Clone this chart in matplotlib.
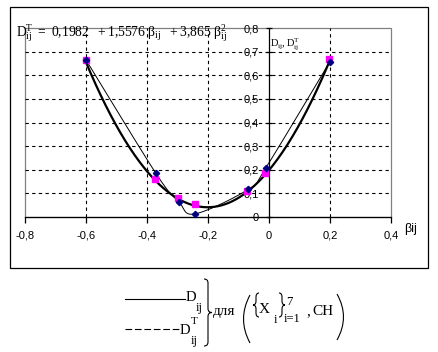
import numpy as np
import matplotlib
matplotlib.use("Agg")
import matplotlib.pyplot as plt
from matplotlib.patches import Rectangle, PathPatch
from matplotlib.path import Path

# ---- data ----
beta_T = [-0.6, -0.375, -0.297, -0.243, -0.073, -0.012, 0.197]
D_T = [0.665, 0.161, 0.082, 0.054, 0.111, 0.185, 0.668]
beta = [-0.6, -0.371, -0.296, -0.243, -0.068, -0.010, 0.200]
D = [0.665, 0.185, 0.065, 0.013, 0.117, 0.209, 0.658]
trend_coef = [0.1982, 1.5576, 3.865]   # D^T = c0 + c1*b + c2*b^2
x_ticks = [-0.8, -0.6, -0.4, -0.2, 0.0, 0.2, 0.4]
x_tick_labels = ["-0,8", "-0,6", "-0,4", "-0,2", "0", "0,2", "0,4"]
y_ticks = [0, 0.1, 0.2, 0.3, 0.4, 0.5, 0.6, 0.7, 0.8]
y_tick_labels = ["0", "0,1", "0,2", "0,3", "0,4", "0,5", "0,6", "0,7", "0,8"]

serif = 'Liberation Serif'
plt.rcParams['mathtext.fontset'] = 'custom'
plt.rcParams['mathtext.rm'] = serif
plt.rcParams['mathtext.it'] = serif
plt.rcParams['mathtext.bf'] = serif

W, H = 438, 352
fig = plt.figure(figsize=(W / 100, H / 100), dpi=100)


def smooth(xs, ys, n=40):
    P = np.column_stack([xs, ys])
    out = []
    for i in range(len(P) - 1):
        p0 = P[max(i - 1, 0)]
        p1 = P[i]
        p2 = P[i + 1]
        p3 = P[min(i + 2, len(P) - 1)]
        c1 = p1 + (p2 - p0) / 6.0
        c2 = p2 - (p3 - p1) / 6.0
        t = np.linspace(0, 1, n)[:, None]
        seg = ((1 - t) ** 3) * p1 + 3 * ((1 - t) ** 2) * t * c1 \
            + 3 * (1 - t) * t ** 2 * c2 + t ** 3 * p2
        out.append(seg if i == 0 else seg[1:])
    S = np.vstack(out)
    return S[:, 0], S[:, 1]


ax = fig.add_axes([25 / W, 1 - 217 / H, 366 / W, 189 / H])
ax.set_xlim(-0.8, 0.4)
ax.set_ylim(0, 0.8)

# grid
for gx in [-0.6, -0.4, -0.2, 0.2]:
    ax.axvline(gx, color='black', lw=0.8, ls=(0, (3, 3)), zorder=1)
for gy in [0.1, 0.2, 0.3, 0.4, 0.5, 0.6, 0.7]:
    ax.axhline(gy, color='black', lw=0.8, ls=(0, (3, 3)), zorder=1)

ax.add_patch(Rectangle((0, 0), 1, 1, transform=ax.transAxes, fill=False,
                       ec='#808080', lw=0.9, zorder=0.5, clip_on=False))

for s in ['top', 'right']:
    ax.spines[s].set_visible(False)
ax.spines['left'].set_position(('data', 0))
ax.spines['left'].set_color('black')
ax.spines['bottom'].set_color('black')
ax.spines['left'].set_linewidth(0.9)
ax.spines['bottom'].set_linewidth(0.9)

ax.set_xticks(x_ticks)
ax.set_xticklabels(x_tick_labels)
ax.set_yticks(y_ticks)
ax.set_yticklabels(y_tick_labels)
ax.tick_params(axis='x', direction='out', length=4, width=0.9, pad=6,
               labelsize=8, labelfontfamily='Liberation Sans')
ax.tick_params(axis='y', direction='inout', length=5, width=0.9, pad=5,
               labelsize=8, labelfontfamily='Liberation Sans')

# trendline (thick)
bx = np.linspace(beta_T[0], beta_T[-1], 200)
by = trend_coef[0] + trend_coef[1] * bx + trend_coef[2] * bx ** 2
ax.plot(bx, by, color='black', lw=1.6, zorder=3)

# smooth thin line through D
sx, sy = smooth(beta, D)
ax.plot(sx, sy, color='black', lw=0.7, zorder=3)

ax.plot(beta_T, D_T, ls='none', marker='s', ms=4.3, color='#FF00FF',
        mec='#FF00FF', zorder=4, clip_on=False)
ax.plot(beta, D, ls='none', marker='D', ms=3.2, color='#000080',
        mec='#000080', zorder=5, clip_on=False)

# ---- overlay for free text ----
oa = fig.add_axes([0, 0, 1, 1], zorder=10)
oa.set_xlim(0, W)
oa.set_ylim(H, 0)
oa.axis('off')
oa.patch.set_alpha(0)

oa.add_patch(Rectangle((10, 7), 418, 261, fill=False, ec='black', lw=0.9))

oa.text(16, 37, r"$\mathregular{D^{T}_{ij}\ =\ 0{,}1982\ \ +1{,}5576\ \beta_{ij}\ \ +3{,}865\ \beta^{2}_{ij}}$",
        family=serif, fontsize=9.8, ha='left', va='baseline')
oa.text(270, 47, r"$\mathregular{D_{ij},D^{T}_{ij}}$", family=serif, fontsize=7.5,
        ha='left', va='baseline')
oa.text(404, 229, "βij", fontsize=9, family='Liberation Sans', ha='left', va='center')

# legend
oa.plot([125, 185], [299, 299], color='black', lw=0.8)
oa.plot([125, 180], [329, 329], color='black', lw=0.8, ls=(0, (6, 2.5)))
oa.text(186, 301, "D", family=serif, fontsize=10.5, va='baseline')
oa.text(196, 311, "ij", family=serif, fontsize=9, va='baseline')
oa.text(180, 334, "D", family=serif, fontsize=10.5, va='baseline')
oa.text(191, 324, "T", family=serif, fontsize=8, va='baseline')
oa.text(191, 344, "ij", family=serif, fontsize=9, va='baseline')


def draw_path(verts, codes, lw=0.8):
    oa.add_patch(PathPatch(Path(verts, codes), fill=False, ec='black', lw=lw))


M, L, C = Path.MOVETO, Path.LINETO, Path.CURVE3


def brace(x0, x1, y0, y1, right=True):
    xm = (x0 + x1) / 2.0
    ym = (y0 + y1) / 2.0
    a, tip = (x0, x1) if right else (x1, x0)
    draw_path([(a, y0), (xm, y0), (xm, y0 + 4), (xm, ym - 4), (xm, ym), (tip, ym),
               (xm, ym), (xm, ym + 4), (xm, y1 - 4), (xm, y1), (a, y1)],
              [M, C, C, L, C, C, C, C, L, C, C])


brace(204, 212, 279, 346, right=True)
oa.text(213, 315, "для", family=serif, fontsize=11, va='baseline')
# big parentheses
draw_path([(250, 295), (237, 319), (250, 343)], [M, C, C])
draw_path([(337, 294), (350, 317), (337, 340)], [M, C, C])
brace(253, 259, 293, 317, right=False)
oa.text(259, 313, "X", family=serif, fontsize=11, va='baseline')
oa.text(274, 323, "i", family=serif, fontsize=9, va='baseline')
brace(279, 285, 293, 317, right=True)
oa.text(286, 305, "7", family=serif, fontsize=9, va='baseline')
oa.text(284, 322, "i=1", family=serif, fontsize=9, va='baseline')
oa.text(306, 315, ",", family=serif, fontsize=11, va='baseline')
oa.text(312, 315, "CH", family=serif, fontsize=11, va='baseline')

fig.savefig("out.png", dpi=100)
